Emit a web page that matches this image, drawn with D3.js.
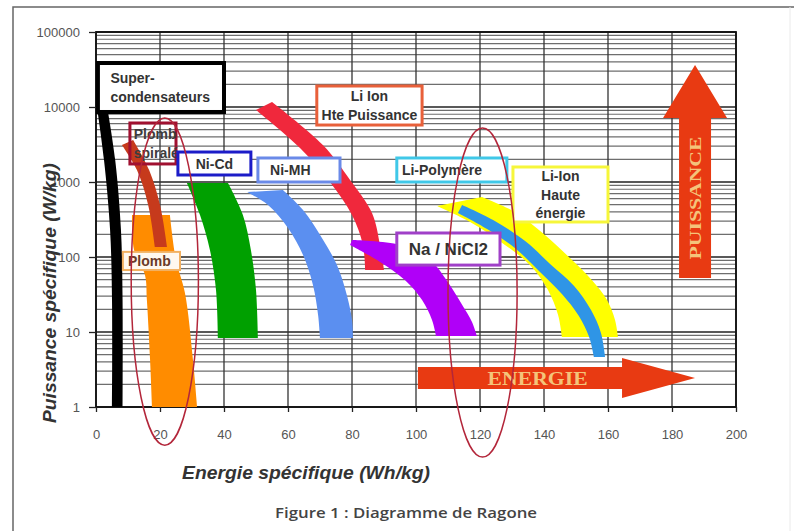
<!DOCTYPE html>
<html>
<head>
<meta charset="utf-8">
<script src="https://cdn.jsdelivr.net/npm/d3@7"></script>
<style>
  body { margin: 0; background: #fff; }
  svg { display: block; }
</style>
</head>
<body>
<div id="chart"></div>
<script>
// Axis ticks
const energyTicks = [0, 20, 40, 60, 80, 100, 120, 140, 160, 180, 200]
const powerTicks = [1, 10, 100, 1000, 10000, 100000]

// Each technology band = two edges of [energie Wh/kg, puissance W/kg]
const superCondensateurs = [
    [[0.3, 10000], [2.5, 1970], [4.4, 229], [5, 27], [5, 1]],
    [[3.5, 10000], [6, 1970], [7.8, 229], [8.3, 27], [8.3, 1]]
]
const plomb = [
    [[11.25, 363], [11.9, 124], [15.3, 57.5], [15.9, 26.7], [16.9, 4.24], [17.5, 1]],
    [[23.1, 363], [25, 91], [27.8, 33], [30.3, 4.24], [31.6, 1]]
]
const plombSpirale = [
    [[8.1, 3110], [12.8, 1445], [16.3, 494], [18.4, 136]],
    [[11.6, 3630], [16.6, 1445], [20, 494], [22.2, 136]]
]
const niCd = [
    [[28.4, 970], [32.5, 363], [35.6, 124], [37.5, 36.3], [38.1, 8.3]],
    [[41.25, 970], [45.9, 363], [48.4, 124], [50, 36.3], [50.6, 8.3]]
]
const niMH = [
    [[47.2, 735], [53.75, 494], [60, 244], [64.7, 106], [67.8, 42.4], [69.4, 16.9], [70, 8.3]],
    [[58.4, 782], [64.7, 423], [70.6, 179], [75.3, 78], [78.4, 31], [80, 14.5], [80.3, 8.3]]
]
const liIonPuissance = [
    [[50, 9120], [63.75, 2840], [73.1, 1000], [80, 363], [83.4, 145], [84.1, 67]],
    [[55, 11660], [70.9, 3110], [79.4, 1064], [86.25, 386], [88.75, 145], [90, 67]]
]
const naNiCl2 = [
    [[79.4, 145], [88.75, 86], [96.6, 49], [101.9, 26.7], [105, 14.5], [106.25, 8.85]],
    [[80, 169], [95, 145], [104.4, 91], [110, 46], [114.4, 23], [117.5, 13.6], [119, 8.85]]
]
const liIonEnergie = [
    [[106.6, 479], [116.9, 293], [127.8, 145], [135.6, 78], [141.25, 36.3], [144.4, 16.9], [145.6, 8.58]],
    [[120.6, 631], [130.9, 398], [140.3, 196], [148.1, 97], [155, 49], [159.7, 26.7], [162.2, 14.5], [163.1, 8.58]]
]
const liPolymere = [
    [[113.1, 386], [122.2, 236], [131.25, 128], [138.75, 63], [145.6, 32], [150.9, 16.3], [154.1, 8.58], [155.6, 4.64]],
    [[114.4, 494], [124.1, 311], [134.1, 163], [141.9, 80.7], [149.4, 41], [154.7, 19.6], [157.8, 9.7], [159.1, 4.64]]
]

// Circled zones (energie range, puissance range)
const zoneEnergy = [[11, 32], [110, 131.6]]
const zonePower = [[0.31, 7130], [0.215, 5250]]

// Drawing setup
const width = 794
const height = 531
const plot = { left: 96, right: 736, top: 32, bottom: 407 }

const x = d3.scaleLinear().domain([0, 200]).range([plot.left, plot.right])
const y = d3.scaleLog().domain([1, 100000]).range([plot.bottom, plot.top])

const svg = d3.select("#chart").append("svg")
    .attr("width", width)
    .attr("height", height)
    .attr("viewBox", `0 0 ${width} ${height}`)

// Page frame
svg.append("path").attr("d", "M13,531V7H794").attr("fill", "none").attr("stroke", "#666").attr("stroke-width", 1.5)
svg.append("line").attr("x1", 790).attr("x2", 790).attr("y1", 7).attr("y2", 531).attr("stroke", "#eaeaea")

// Grid: minor log lines, then decades, then vertical lines
const minorPowers = []
powerTicks.slice(0, -1).forEach(p => { for (let m = 2; m <= 9; m++) minorPowers.push(p * m) })

const grid = svg.append("g")
grid.selectAll("line.minor").data(minorPowers).join("line")
    .attr("class", "minor")
    .attr("x1", plot.left).attr("x2", plot.right)
    .attr("y1", d => y(d)).attr("y2", d => y(d))
    .attr("stroke", "#6e6e6e").attr("stroke-width", 1.2)
grid.selectAll("line.major").data(powerTicks).join("line")
    .attr("class", "major")
    .attr("x1", plot.left).attr("x2", plot.right)
    .attr("y1", d => y(d)).attr("y2", d => y(d))
    .attr("stroke", "#222").attr("stroke-width", 1.4)
grid.selectAll("line.vert").data(energyTicks).join("line")
    .attr("class", "vert")
    .attr("x1", d => x(d)).attr("x2", d => x(d))
    .attr("y1", plot.top).attr("y2", plot.bottom)
    .attr("stroke", "#333").attr("stroke-width", 1.3)
svg.append("rect")
    .attr("x", plot.left).attr("y", plot.top)
    .attr("width", plot.right - plot.left).attr("height", plot.bottom - plot.top)
    .attr("fill", "none").attr("stroke", "#111").attr("stroke-width", 1.8)

// Axes
svg.append("g").attr("transform", translate(0, plot.bottom))
    .call(d3.axisBottom(x).tickValues(energyTicks).tickSize(5).tickPadding(18))
    .call(styleAxis)
svg.append("g").attr("transform", translate(plot.left, 0))
    .call(d3.axisLeft(y).tickValues(powerTicks).tickFormat(d3.format("d")).tickSize(7).tickPadding(9))
    .call(styleAxis)

function styleAxis(g) {
    g.select(".domain").remove()
    g.selectAll(".tick line").attr("stroke", "#222").attr("stroke-width", 1.3)
    g.selectAll("text")
        .attr("fill", "#555")
        .style("font-family", "'Liberation Sans', Arial, sans-serif")
        .style("font-size", "13px")
}

// Bands
const edge = d3.line().x(d => x(d[0])).y(d => y(d[1])).curve(d3.curveCatmullRom)
function bandPath(band) {
    const a = edge(band[0])
    const b = edge(band[1].slice().reverse())
    return a + "L" + b.slice(1) + "Z"
}

const bands = [
    { data: superCondensateurs, color: "#000" },
    { data: plomb, color: "#ff8c00" },
    { data: plombSpirale, color: "#c63a1c" },
    { data: niCd, color: "#00a000" },
    { data: niMH, color: "#5b8ff0" },
    { data: liIonPuissance, color: "#f0283c" },
    { data: naNiCl2, color: "#b000f8" },
    { data: liIonEnergie, color: "#ffff00" },
    { data: liPolymere, color: "#2f95e6" }
]
svg.append("g").selectAll("path").data(bands).join("path")
    .attr("d", d => bandPath(d.data))
    .attr("fill", d => d.color)

// Labels: box given in energie / puissance units
const labels = [
    { lines: ["Super-", "condensateurs"], box: [0.6, 40, 8580, 38600], stroke: "#000", sw: 4, fill: "#fff", tx: 4.5, anchor: "start" },
    { lines: ["Plomb", "spiralé"], box: [10.6, 25, 1740, 6120], stroke: "#a01030", sw: 3, fill: "none", color: "#3d3d3d", tx: 11.8, anchor: "start" },
    { lines: ["Ni-Cd"], box: [25.6, 48.4, 1240, 2510], stroke: "#1c1cc8", sw: 3, fill: "#fff" },
    { lines: ["Ni-MH"], box: [50.6, 76.25, 1000, 2090], stroke: "#6a8ae8", sw: 3, fill: "#fff", tx: 54.4, anchor: "start" },
    { lines: ["Li Ion", "Hte Puissance"], box: [69, 101.9, 5750, 19050], stroke: "#e8603a", sw: 3, fill: "#fff" },
    { lines: ["Li-Polymère"], box: [94, 128.4, 1000, 2090], stroke: "#40c8e8", sw: 3, fill: "#fff", tx: 95.6, anchor: "start" },
    { lines: ["Li-Ion", "Haute", "énergie"], box: [130.3, 160, 293, 1585], stroke: "#f6f63a", sw: 3, fill: "#fff" },
    { lines: ["Na / NiCl2"], box: [94, 126.25, 78, 209], stroke: "#a040c8", sw: 3, fill: "#fff", size: 17 },
    { lines: ["Plomb"], box: [8.4, 26.25, 67, 117], stroke: "#f2b060", sw: 2, fill: "#fff8ee", color: "#6a3a28", tx: 10, anchor: "start" }
]

const labelG = svg.append("g").selectAll("g").data(labels).join("g")
labelG.append("rect")
    .attr("x", d => x(d.box[0])).attr("y", d => y(d.box[3]))
    .attr("width", d => x(d.box[1]) - x(d.box[0]))
    .attr("height", d => y(d.box[2]) - y(d.box[3]))
    .attr("fill", d => d.fill).attr("stroke", d => d.stroke).attr("stroke-width", d => d.sw)
labelG.each(function(d) {
    const size = d.size || 14
    const top = y(d.box[3])
    const h = y(d.box[2]) - top
    const step = size * 1.3
    const first = top + h / 2 - (d.lines.length - 1) * step / 2 + size * 0.36
    const tx = d.tx !== undefined ? x(d.tx) : (x(d.box[0]) + x(d.box[1])) / 2
    d3.select(this).selectAll("text").data(d.lines).join("text")
        .attr("x", tx)
        .attr("y", (t, i) => first + i * step)
        .attr("text-anchor", d.anchor || "middle")
        .attr("fill", d.color || "#333")
        .style("font-family", "'Liberation Sans', Arial, sans-serif")
        .style("font-weight", "bold")
        .style("font-size", size + "px")
        .text(t => t)
})

// Arrows (PUISSANCE up, ENERGIE right)
const arrowColor = "#e83a12"
const ax = x(187.2)
const pBottom = y(52.5)
const pTip = y(36300)
svg.append("path")
    .attr("d", `M${ax - 16},${pBottom}V${pTip + 53}H${ax - 32}L${ax},${pTip}L${ax + 32},${pTip + 53}H${ax + 16}V${pBottom}Z`)
    .attr("fill", arrowColor)
svg.append("text")
    .attr("transform", `translate(${ax + 6},${(pBottom + pTip + 53) / 2}) rotate(-90)`)
    .attr("text-anchor", "middle")
    .attr("fill", "#f4c47a")
    .attr("textLength", 123).attr("lengthAdjust", "spacingAndGlyphs")
    .style("font-family", "'Liberation Serif', 'Times New Roman', serif")
    .style("font-weight", "bold").style("font-size", "17px")
    .text("PUISSANCE")

const eLeft = x(100.6)
const eTip = x(187.2)
const ey = y(2.44)
svg.append("path")
    .attr("d", `M${eLeft},${ey - 11}H${eTip - 73}V${ey - 20}L${eTip},${ey}L${eTip - 73},${ey + 20}V${ey + 11}H${eLeft}Z`)
    .attr("fill", arrowColor)
svg.append("text")
    .attr("x", x(138)).attr("y", ey + 7)
    .attr("text-anchor", "middle")
    .attr("fill", "#f4c47a")
    .attr("textLength", 100).attr("lengthAdjust", "spacingAndGlyphs")
    .style("font-family", "'Liberation Serif', 'Times New Roman', serif")
    .style("font-weight", "bold").style("font-size", "19px")
    .text("ENERGIE")

// Circled zones
svg.append("g").selectAll("ellipse").data(zoneEnergy).join("ellipse")
    .attr("cx", (d, i) => (x(d[0]) + x(d[1])) / 2)
    .attr("cy", (d, i) => (y(zonePower[i][0]) + y(zonePower[i][1])) / 2)
    .attr("rx", (d, i) => (x(d[1]) - x(d[0])) / 2)
    .attr("ry", (d, i) => (y(zonePower[i][0]) - y(zonePower[i][1])) / 2)
    .attr("fill", "none").attr("stroke", "#b3263a").attr("stroke-width", 1.5)

// Axis titles and caption
svg.append("text")
    .attr("x", 306).attr("y", 479)
    .attr("text-anchor", "middle").attr("fill", "#333")
    .attr("textLength", 248).attr("lengthAdjust", "spacingAndGlyphs")
    .style("font-family", "'Liberation Sans', Arial, sans-serif")
    .style("font-weight", "bold").style("font-style", "italic").style("font-size", "18px")
    .text("Energie spécifique (Wh/kg)")
svg.append("text")
    .attr("transform", `translate(56,293) rotate(-90)`)
    .attr("text-anchor", "middle").attr("fill", "#333")
    .attr("textLength", 260).attr("lengthAdjust", "spacingAndGlyphs")
    .style("font-family", "'Liberation Sans', Arial, sans-serif")
    .style("font-weight", "bold").style("font-style", "italic").style("font-size", "18px")
    .text("Puissance spécifique (W/kg)")
svg.append("text")
    .attr("x", 406).attr("y", 518)
    .attr("text-anchor", "middle").attr("fill", "#444")
    .attr("textLength", 262).attr("lengthAdjust", "spacingAndGlyphs")
    .style("font-family", "'Open Sans', sans-serif")
    .style("font-weight", 600).style("font-size", "14px")
    .text("Figure 1 : Diagramme de Ragone")

function translate(tx, ty) {
    return `translate(${tx},${ty})`
}
</script>
</body>
</html>
